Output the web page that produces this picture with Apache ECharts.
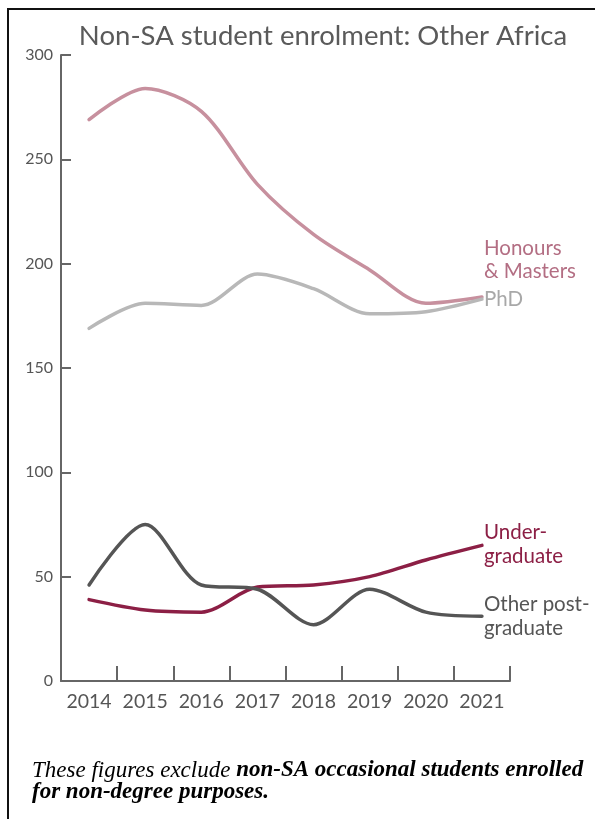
<!DOCTYPE html>
<html>
<head>
<meta charset="utf-8">
<script src="https://cdn.jsdelivr.net/npm/echarts@6/dist/echarts.min.js"></script>
<style>
html,body{margin:0;padding:0;background:#fff;}
#chart{width:595px;height:819px;}
</style>
</head>
<body>
<div id="chart"></div>
<script>
const years = ['2014','2015','2016','2017','2018','2019','2020','2021'];
const honoursMasters = [269, 284, 273, 238, 214, 197, 181, 184];
const phd = [169, 181, 180, 195, 188, 176, 177, 183];
const undergraduate = [39, 34, 33, 45, 46, 50, 58, 65];
const otherPostgrad = [46, 75, 46, 44, 27, 44, 33, 31];
const yTicks = [0, 50, 100, 150, 200, 250, 300];

const FONT = 'Lato';
const chart = echarts.init(document.getElementById('chart'), null, {renderer: 'canvas'});

function mkSeries(name, data, color, label, labelColor, offsetY) {
  return {
    name: name, type: 'line', data: data, smooth: 0.3, symbol: 'none',
    lineStyle: {color: color, width: 3.5, cap: 'round', join: 'round'},
    endLabel: {
      show: true, formatter: label, color: labelColor, fontFamily: FONT,
      fontSize: 20.5, lineHeight: 23.5, align: 'left', verticalAlign: 'middle',
      distance: 2, offset: [0, offsetY]
    }
  };
}

chart.setOption({
  animation: false,
  title: {
    text: 'Non-SA student enrolment: Other Africa',
    left: 318, textAlign: 'center', top: 17,
    textStyle: {fontFamily: FONT, fontSize: 27.5, fontWeight: 'normal', color: '#5a5a5a'}
  },
  grid: {left: 61, right: 85, top: 55, bottom: 138, containLabel: false},
  xAxis: {
    type: 'category', data: years, boundaryGap: true,
    axisLine: {lineStyle: {color: '#666', width: 2}},
    axisTick: {show: true, inside: true, length: 15, interval: 0, lineStyle: {color: '#666', width: 2}},
    axisLabel: {fontFamily: FONT, fontSize: 19.5, color: '#555', margin: 11, interval: 0}
  },
  yAxis: {
    type: 'value', min: 0, max: 300, interval: 50,
    axisLine: {show: true, lineStyle: {color: '#666', width: 2}},
    axisTick: {show: true, inside: true, length: 10, lineStyle: {color: '#666', width: 2}},
    axisLabel: {fontFamily: FONT, fontSize: 16, color: '#555', margin: 8,
      formatter: v => yTicks.includes(v) ? String(v) : ''},
    splitLine: {show: false}
  },
  series: [
    mkSeries('Honours & Masters', honoursMasters, '#c7909e', 'Honours\n& Masters', '#b36e83', -37),
    mkSeries('PhD', phd, '#b8b8b8', 'PhD', '#a8a8a8', 0),
    mkSeries('Undergraduate', undergraduate, '#8c1f45', 'Under-\ngraduate', '#8c1f45', -1),
    mkSeries('Other postgraduate', otherPostgrad, '#555555', 'Other post-\ngraduate', '#555555', 0)
  ],
  graphic: [
    {type: 'rect', shape: {x: 8, y: 9, width: 600, height: 820},
     style: {fill: 'none', stroke: '#111', lineWidth: 2}, silent: true},
    {type: 'text', left: 32, top: 759,
     style: {
       text: '{n|These figures exclude }{b|non-SA occasional students enrolled}\n{b|for non-degree purposes.}',
       rich: {
         n: {fontFamily: 'Liberation Serif', fontStyle: 'italic', fontSize: 23, color: '#555', lineHeight: 22},
         b: {fontFamily: 'Liberation Serif', fontStyle: 'italic', fontWeight: 'bold', fontSize: 23, color: '#555', lineHeight: 22}
       }
     }}
  ]
});
</script>
</body>
</html>
